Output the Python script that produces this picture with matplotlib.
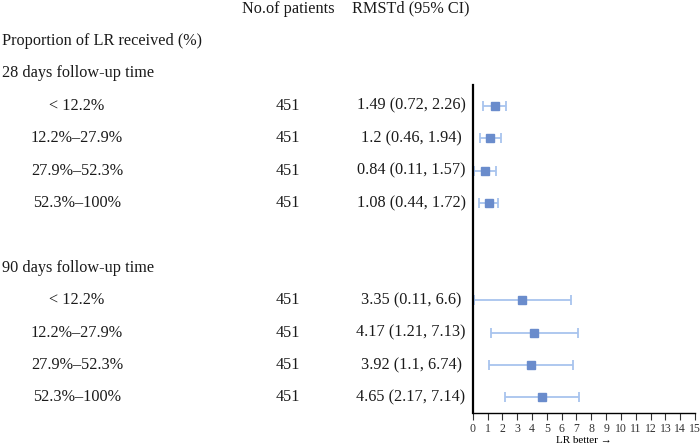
import numpy as np
import matplotlib.pyplot as plt
from matplotlib.transforms import blended_transform_factory

plt.rcParams['font.family'] = ['Liberation Serif', 'DejaVu Serif']

# data
groups = ['< 12.2%', '12.2%\u201327.9%', '27.9%\u201352.3%', '52.3%\u2013100%']
n_28 = [451, 451, 451, 451]
est_28 = [1.49, 1.2, 0.84, 1.08]
lo_28 = [0.72, 0.46, 0.11, 0.44]
hi_28 = [2.26, 1.94, 1.57, 1.72]
n_90 = [451, 451, 451, 451]
est_90 = [3.35, 4.17, 3.92, 4.65]
lo_90 = [0.11, 1.21, 1.1, 2.17]
hi_90 = [6.6, 7.13, 6.74, 7.14]
xticks = list(range(0, 16))

# row positions (0 = header line)
rows_28 = [3, 4, 5, 6]
rows_90 = [9, 10, 11, 12]

W, H = 700, 445
fig = plt.figure(figsize=(7, 4.45), dpi=100)
ax = fig.add_axes([472.7 / W, 1 - 413 / H, (695 - 472.7) / W, (413 - 85) / H])
ax.set_xlim(0, 15)
ax.set_ylim(12.48, 2.36)

mcol = '#6a8ccc'
ecol = '#a8c4ee'

for rows, est, lo, hi in [(rows_28, est_28, lo_28, hi_28), (rows_90, est_90, lo_90, hi_90)]:
    est = np.array(est)
    err = [est - np.array(lo), np.array(hi) - est]
    ax.errorbar(est, rows, xerr=err, fmt='none', ecolor=ecol, elinewidth=1.3,
                capsize=3.5, capthick=1.3, clip_on=False)
    ax.plot(est, rows, 's', color=mcol, markersize=5.8, clip_on=False)

for s in ['top', 'right']:
    ax.spines[s].set_visible(False)
ax.spines['left'].set_linewidth(1.6)
ax.spines['bottom'].set_linewidth(1.0)
ax.set_yticks([])
ax.set_xticks(xticks)
ax.tick_params(axis='x', length=5, width=0.8, labelsize=8.5, pad=2.5, colors='#333333')
ax.set_xlabel('LR better \u2192', fontsize=8, labelpad=0.5)

tr = blended_transform_factory(fig.transFigure, ax.transData)
fs = 11.7

def txt(x, y, s, ha='left'):
    ax.text(x / W, y, s, transform=tr, ha=ha, va='center', fontsize=fs,
            clip_on=False, color='#1a1a1a')

txt(288, 0, 'No.of patients', ha='center')
txt(411, 0, 'RMSTd (95% CI)', ha='center')
txt(2, 1, 'Proportion of LR received (%)')
txt(2, 2, '28 days follow-up time')
txt(2, 8, '90 days follow-up time')

for rows, n, est, lo, hi in [(rows_28, n_28, est_28, lo_28, hi_28), (rows_90, n_90, est_90, lo_90, hi_90)]:
    for r, g, k, e, l, h in zip(rows, groups, n, est, lo, hi):
        txt(77, r, g, ha='center')
        txt(288, r, str(k), ha='center')
        txt(411, r, f'{e:g} ({l:g}, {h:g})', ha='center')

fig.savefig('out.png', dpi=100)
